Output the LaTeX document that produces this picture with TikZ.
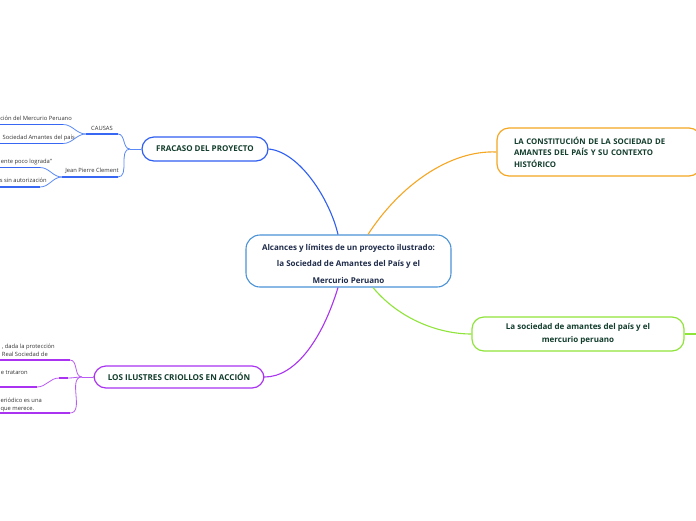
\documentclass[tikz,border=0pt]{standalone}
\usepackage{fontspec}
\setmainfont{Open Sans}
\definecolor{cblue}{HTML}{2F5FF2}
\definecolor{csub}{HTML}{5B8AF7}
\definecolor{corange}{HTML}{F5A623}
\definecolor{cgreen}{HTML}{8FE43A}
\definecolor{cpurple}{HTML}{A933F0}
\definecolor{ccenter}{HTML}{4A92D8}
\definecolor{ctext}{HTML}{123D2C}
\definecolor{cnavy}{HTML}{1F2C4A}
\definecolor{csubtext}{HTML}{333333}
\tikzset{
  topic/.style={draw, line width=1.2pt, rounded corners=12pt, fill=white, text=ctext,
    font=\bfseries\fontsize{8.1}{9}\selectfont, inner sep=0pt},
  subtext/.style={text=csubtext, font=\fontsize{5.8}{8}\selectfont, inner sep=0pt},
  bmain/.style={cblue, line width=1.1pt},
  bsub/.style={csub, line width=0.8pt},
  bul/.style={cblue!80!csub, line width=1.8pt},
  pmain/.style={cpurple, line width=1.1pt},
  psub/.style={cpurple!80!white, line width=0.8pt},
  pul/.style={cpurple, line width=1.8pt},
}
\begin{document}
\begin{tikzpicture}[x=1pt,y=-1pt]
\useasboundingbox (0,0) rectangle (696,520);
\fill[white] (0,0) rectangle (696,520);

% central node
\node[draw=ccenter, line width=1.1pt, rounded corners=14pt, fill=white, text=cnavy,
  font=\bfseries\fontsize{8}{16.5}\selectfont, align=center, minimum width=205pt,
  minimum height=52pt, inner sep=0pt] (c) at (348.5,261)
  {\rule{0pt}{12pt}Alcances y límites de un proyecto ilustrado:\\la Sociedad de Amantes del País y el\\Mercurio Peruano};

% main topics
\node[topic, draw=cblue, minimum width=126pt, minimum height=24pt, font=\bfseries\fontsize{8}{9}\selectfont] (fr) at (205,149) {FRACASO DEL PROYECTO};
\node[topic, draw=corange, text width=170pt, align=left, inner xsep=17pt, minimum height=48pt,
  font=\bfseries\fontsize{7.8}{11.5}\selectfont] (or) at (599,152)
  {LA CONSTITUCIÓN DE LA SOCIEDAD DE\\AMANTES DEL PAÍS Y SU CONTEXTO\\HISTÓRICO};
\node[topic, draw=cgreen, minimum width=212pt, minimum height=34pt, align=center,
  font=\bfseries\fontsize{8}{13}\selectfont] (gr) at (578,334)
  {La sociedad de amantes del país y el\\mercurio peruano};
\node[topic, draw=cpurple, minimum width=170pt, minimum height=22pt] (pu) at (179,377) {LOS ILUSTRES CRIOLLOS EN ACCIÓN};

% main connectors
\draw[bmain] (c.north -| 338,0) .. controls (330,200) and (300,152) .. (fr.east);
\draw[corange, line width=1.1pt] (c.north -| 368,0) .. controls (400,185) and (450,150) .. (or.west);
\draw[cgreen, line width=1.1pt] (c.south -| 373,0) .. controls (400,320) and (440,334) .. (gr.west);
\coordinate (gout) at (700,334);
\draw[cgreen, line width=1.1pt] (gr.east) -- (gout);
\draw[pmain] (c.south -| 338,0) .. controls (322,340) and (295,377) .. (pu.east);

% ---- FRACASO subtopics
\coordinate (fj) at (130,149);
\draw[bsub] (fr.west) -- (fj);
% CAUSAS
\node[subtext, anchor=base] (causas) at (102,130) {CAUSAS};
\coordinate (causasL) at (86,134); \coordinate (causasR) at (118,134);
\draw[bul] (causasL) -- (causasR);
\draw[bsub] (causasR) to[out=0,in=180] (fj);
\node[subtext, anchor=base east] (c1) at (72,120) {ción del Mercurio Peruano};
\coordinate (c1L) at (-2,124.5); \coordinate (c1R) at (63,124.5);
\draw[bul] (c1L) -- (c1R);
\draw[bsub] (c1R) to[out=0,in=180] (causasL);
\node[subtext, anchor=base east] (c2) at (75,139.5) {Sociedad Amantes del país};
\coordinate (c2L) at (-2,143.5); \coordinate (c2R) at (63,143.5);
\draw[bul] (c2L) -- (c2R);
\draw[bsub] (c2R) to[out=0,in=180] (causasL);
% Jean Pierre Clement
\node[subtext, anchor=base] (jean) at (92,172.5) {Jean Pierre Clement};
\coordinate (jL) at (62,177); \coordinate (jR) at (118,177);
\draw[bul] (jL) -- (jR);
\draw[bsub] (jR) to[out=0,in=180] (fj);
\node[subtext, anchor=base east] (j1) at (52,163.5) {ente poco lograda"};
\coordinate (j1L) at (-2,167.5); \coordinate (j1R) at (40,167.5);
\draw[bul] (j1L) -- (j1R);
\draw[bsub] (j1R) to[out=0,in=180] (jL);
\node[subtext, anchor=base east] (j2) at (47,182.5) {s sin autorización};
\coordinate (j2L) at (-2,187); \coordinate (j2R) at (40,187);
\draw[bul] (j2L) -- (j2R);
\draw[bsub] (j2R) to[out=0,in=180] (jL);

% ---- LOS ILUSTRES subtopics
\coordinate (pj) at (82,377);
\draw[psub] (pu.west) -- (pj);
\node[subtext, anchor=north east, align=left, font=\fontsize{5.8}{8}\selectfont] (p1) at (55,343.5)
  {, dada la protección\\Real Sociedad de};
\coordinate (p1L) at (-2,360); \coordinate (p1R) at (70,360);
\draw[pul] (p1L) -- (p1R);
\draw[psub] (p1R) to[out=0,in=180] (pj);
\coordinate (p2L) at (59,378); \coordinate (p2R) at (68,378);
\draw[pul] (p2L) -- (p2R);
\draw[psub] (p2R) to[out=0,in=180] (pj);
\node[subtext, anchor=base east] (p2c) at (28,374.5) {e trataron};
\coordinate (p2cL) at (-2,387); \coordinate (p2cR) at (37,387);
\draw[pul] (p2cL) -- (p2cR);
\draw[psub] (p2cR) to[out=0,in=180] (p2L);
\node[subtext, anchor=north east, align=left, font=\fontsize{5.8}{8}\selectfont] (p3) at (42,397.5)
  {eriódico es una\\que merece.};
\coordinate (p3L) at (-2,413); \coordinate (p3R) at (70,413);
\draw[pul] (p3L) -- (p3R);
\draw[psub] (p3R) to[out=0,in=180] (pj);
\end{tikzpicture}
\end{document}
